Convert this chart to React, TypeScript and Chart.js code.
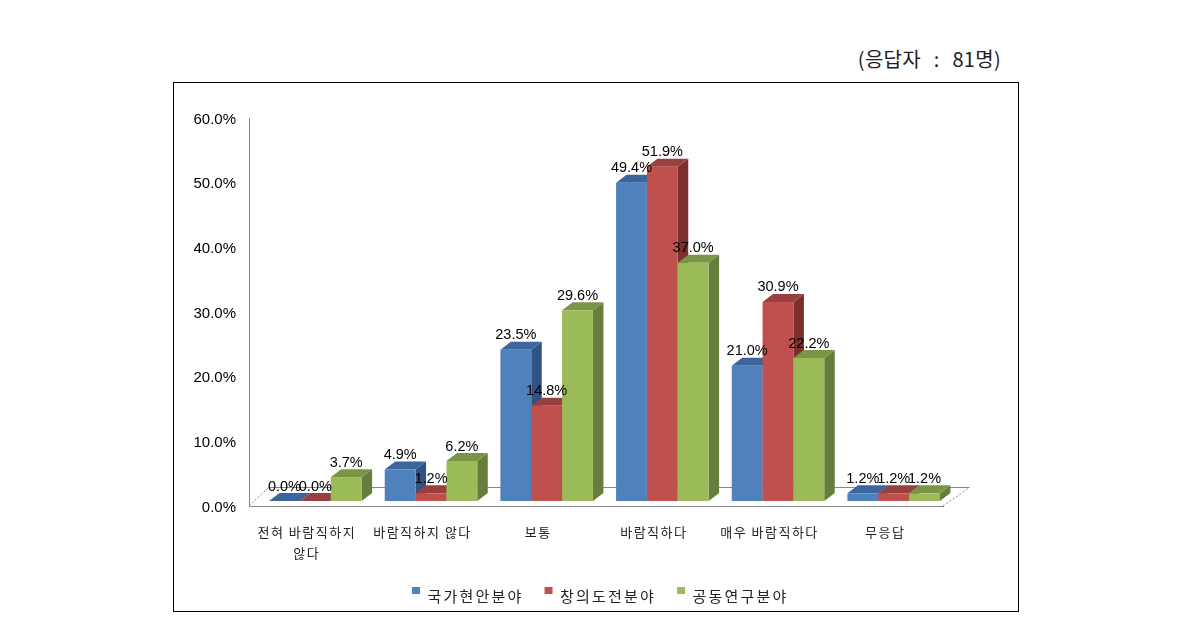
import React, { useEffect, useRef } from "react";
import { Chart, registerables } from "chart.js";

Chart.register(...registerables);

const categories = [["전혀 바람직하지", "않다"], "바람직하지 않다", "보통", "바람직하다", "매우 바람직하다", "무응답"];
const seriesNames = ["국가현안분야", "창의도전분야", "공동연구분야"];
const nationalIssues = [0.0, 4.9, 23.5, 49.4, 21.0, 1.2];
const creativeChallenge = [0.0, 1.2, 14.8, 51.9, 30.9, 1.2];
const jointResearch = [3.7, 6.2, 29.6, 37.0, 22.2, 1.2];
const frontColors = ["#4F81BD", "#C0504D", "#9BBB59"];
const topColors = ["#3B659C", "#98403D", "#7B9546"];
const sideColors = ["#2F5483", "#7D2F2D", "#667D3B"];
const respondentNote = "(응답자 : 81명)";

const KR = '"Noto Sans CJK KR", sans-serif';
const LATIN = '"Liberation Sans", Arial, sans-serif';
const BAR_SHIFT = 8.5;
const DX = 10.5;
const DY = 8;
const LEGEND_DX = 109;
const LEGEND_TOP = 562;

const decorPlugin: any = {
  id: "decor3d",
  beforeDraw(chart: any) {
    const ctx = chart.ctx;
    const x = chart.scales.x;
    if (!x.__wrapped) {
      x.__wrapped = true;
      const orig = x.drawLabels.bind(x);
      x.drawLabels = (a: any) => {
        ctx.letterSpacing = "1.5px";
        orig(a);
        ctx.letterSpacing = "0px";
      };
    }
    const y = chart.scales.y;
    if (!y.__wrapped) {
      y.__wrapped = true;
      const orig = y.drawLabels.bind(y);
      y.drawLabels = (a: any) => {
        ctx.save();
        ctx.translate(0, 1.5);
        orig(a);
        ctx.restore();
      };
    }
    const lg = chart.legend;
    if (lg && !lg.__wrapped) {
      lg.__wrapped = true;
      const orig = lg.draw.bind(lg);
      lg.draw = () => {
        ctx.save();
        ctx.translate(LEGEND_DX - lg.left, LEGEND_TOP - lg.top);
        ctx.letterSpacing = "2.2px";
        const ft = ctx.fillText;
        ctx.fillText = function (t: string, px: number, py: number) {
          ft.call(ctx, t, px, py + 6);
        };
        orig();
        delete ctx.fillText;
        ctx.letterSpacing = "0px";
        ctx.restore();
      };
    }
  },
  beforeDatasetsDraw(chart: any) {
    const ctx = chart.ctx;
    const { left, right, bottom } = chart.chartArea;
    ctx.save();
    ctx.lineWidth = 1;
    ctx.strokeStyle = "#868686";
    ctx.beginPath();
    ctx.moveTo(left + 19.5, bottom - 18.5);
    ctx.lineTo(right + 26.5, bottom - 18.5);
    ctx.stroke();
    ctx.setLineDash([2, 2]);
    ctx.beginPath();
    ctx.moveTo(left, bottom);
    ctx.lineTo(left + 19.5, bottom - 18.5);
    ctx.moveTo(right, bottom);
    ctx.lineTo(right + 26.5, bottom - 18.5);
    ctx.stroke();
    ctx.setLineDash([]);
    ctx.translate(BAR_SHIFT, 0);
    chart.data.datasets.forEach((ds: any, di: number) => {
      const meta = chart.getDatasetMeta(di);
      meta.data.forEach((el: any) => {
        const { x, y, base, width } = el.getProps(["x", "y", "base", "width"], true);
        const x0 = x - width / 2;
        const x1 = x + width / 2;
        ctx.fillStyle = sideColors[di];
        ctx.beginPath();
        ctx.moveTo(x1, y);
        ctx.lineTo(x1 + DX, y - DY);
        ctx.lineTo(x1 + DX, base - DY);
        ctx.lineTo(x1, base);
        ctx.closePath();
        ctx.fill();
        ctx.fillStyle = topColors[di];
        ctx.beginPath();
        ctx.moveTo(x0, y);
        ctx.lineTo(x0 + DX, y - DY);
        ctx.lineTo(x1 + DX, y - DY);
        ctx.lineTo(x1, y);
        ctx.closePath();
        ctx.fill();
        el.draw(ctx);
      });
    });
    ctx.fillStyle = "#000";
    ctx.font = `14.5px ${LATIN}`;
    ctx.textAlign = "center";
    ctx.textBaseline = "middle";
    chart.data.datasets.forEach((ds: any, di: number) => {
      chart.getDatasetMeta(di).data.forEach((el: any, i: number) => {
        const { x, y } = el.getProps(["x", "y"], true);
        ctx.fillText(ds.data[i].toFixed(1) + "%", x, y - 14.5);
      });
    });
    ctx.restore();
    return false;
  },
};

export default function App() {
  const ref = useRef<HTMLCanvasElement>(null);
  useEffect(() => {
    const chart = new Chart(ref.current as HTMLCanvasElement, {
      type: "bar",
      data: {
        labels: categories as any,
        datasets: [nationalIssues, creativeChallenge, jointResearch].map((d, i) => ({
          label: seriesNames[i],
          data: d,
          backgroundColor: frontColors[i],
          borderWidth: 0,
          yAxisID: "y2",
          categoryPercentage: 0.8,
          barPercentage: 1,
        })),
      },
      options: {
        responsive: false,
        animation: false,
        layout: { padding: { top: 118, right: 247, left: 0, bottom: 0 } },
        plugins: {
          tooltip: { enabled: false },
          legend: {
            position: "bottom",
            labels: {
              boxWidth: 8,
              boxHeight: 7,
              padding: 21,
              color: "#222",
              font: { family: KR, size: 15 },
            },
          },
        },
        scales: {
          x: {
            afterFit: (s: any) => {
              s.height = 77;
            },
            grid: { display: false, drawTicks: false },
            border: { display: true, color: "#868686" },
            ticks: {
              autoSkip: false,
              maxRotation: 0,
              padding: 16,
              color: "#222",
              font: { family: KR, size: 13, lineHeight: 1.6 },
            },
          },
          y: {
            min: 0,
            max: 60,
            afterFit: (s: any) => {
              s.width = 249;
            },
            grid: { display: false, drawTicks: false },
            border: { display: true, color: "#868686" },
            ticks: {
              stepSize: 10,
              padding: 13,
              color: "#000",
              font: { family: LATIN, size: 15 },
              callback: (v: any) => Number(v).toFixed(1) + "%",
            },
          },
          y2: { display: false, min: -0.776, max: 59.47 },
        },
      },
      plugins: [decorPlugin],
    } as any);
    return () => chart.destroy();
  }, []);
  return (
    <div style={{ position: "fixed", left: 0, top: 0, width: 1190, height: 629, background: "#fff", overflow: "hidden" }}>
      <div
        style={{
          position: "absolute",
          left: 173,
          top: 82,
          width: 846,
          height: 530,
          boxSizing: "border-box",
          border: "1px solid #000",
        }}
      />
      <div
        style={{
          position: "absolute",
          right: 189,
          top: 45,
          fontFamily: KR,
          fontSize: 20,
          lineHeight: "28px",
          letterSpacing: "0.3px",
          wordSpacing: "8px",
          color: "#222",
          whiteSpace: "pre",
        }}
      >
        {respondentNote}
      </div>
      <canvas ref={ref} width={1190} height={629} style={{ position: "absolute", left: 0, top: 0 }} />
    </div>
  );
}
